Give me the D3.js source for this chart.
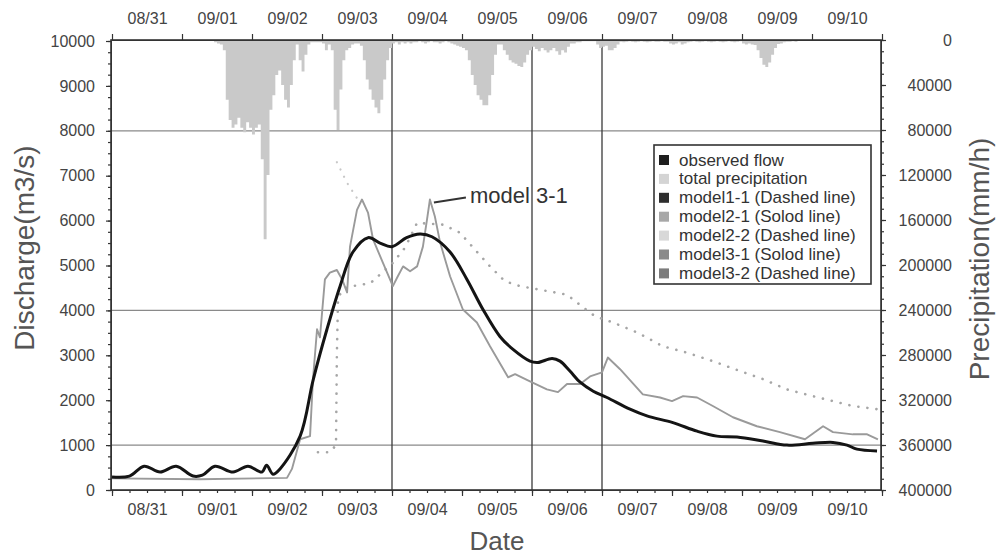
<!DOCTYPE html>
<html lang="en">
<head>
  <meta charset="UTF-8">
  <title>Discharge and precipitation</title>
  <script src="https://d3js.org/d3.v7.min.js"></script>
  <style>
    body { margin: 0; background: #fff; font-family: "Liberation Sans", Arial, Helvetica, sans-serif; }
    .tick text { fill: #444; font-size: 16px; font-family: "Liberation Sans", Arial, sans-serif; }
    .axis path, .axis line { stroke: #333; }
  </style>
</head>
<body>
<div id="chart"></div>
<script>
  // day labels (08/31 00:00 = hour 0)
  const days = ["08/31", "09/01", "09/02", "09/03", "09/04", "09/05", "09/06", "09/07", "09/08", "09/09", "09/10"];
  const dischargeTicks = [0, 1000, 2000, 3000, 4000, 5000, 6000, 7000, 8000, 9000, 10000];
  const precipTicks = [0, 40000, 80000, 120000, 160000, 200000, 240000, 280000, 320000, 360000, 400000];
  const gridValues = [1000, 4000, 8000];
  const markedDays = [4, 6, 7];

  // observed flow
  const obsHours = [0, 6, 11, 16.5, 22, 27.8, 31, 35.3, 41.5, 46.6, 51.4, 53, 55.2, 57.6, 64.5, 69, 73.7, 78.2, 82.6, 87.8, 91.9, 96, 101, 105.6, 109.7, 115.9, 121.7, 127.2, 133, 137.5, 143.3, 146, 150.9, 153.6, 157, 160.5, 165, 169.7, 177.6, 183.4, 192.3, 200.6, 207.4, 214.3, 223.2, 231.4, 240.3, 247.2, 252, 255.4, 262.3];
  const obsFlow = [290, 310, 530, 400, 530, 310, 330, 530, 400, 530, 400, 550, 350, 470, 1200, 2460, 3580, 4540, 5300, 5620, 5500, 5420, 5620, 5700, 5640, 5300, 4690, 4020, 3420, 3130, 2870, 2840, 2930, 2870, 2650, 2400, 2200, 2060, 1800, 1650, 1500, 1310, 1200, 1180, 1090, 1000, 1040, 1060, 1000, 910, 870];

  // model3-1 (solid)
  const m31Hours = [0, 30, 60, 61.7, 64.5, 67.9, 68.9, 70.3, 71.3, 73, 74.7, 77.1, 78.9, 80.6, 81.6, 84, 85.7, 87.8, 89.5, 92.9, 96.3, 98, 99.8, 102.2, 104.6, 106.6, 108, 109, 110.7, 112.5, 115.9, 120.3, 125.1, 129.6, 135.8, 138.2, 143.3, 149.1, 152.9, 156, 160.5, 163.9, 168, 170, 174.2, 182, 187.9, 192, 195.8, 200.6, 206, 212.9, 221.1, 229, 237.6, 243.8, 247.2, 254, 258.9, 262.6];
  const m31Flow = [260, 240, 270, 470, 1130, 1200, 2460, 3580, 3400, 4690, 4840, 4900, 4690, 4400, 5420, 6240, 6470, 6170, 5580, 5060, 4540, 4760, 4980, 4870, 4980, 5420, 6020, 6470, 6090, 5510, 4760, 4020, 3730, 3200, 2510, 2580, 2420, 2240, 2180, 2360, 2360, 2530, 2620, 2950, 2690, 2130, 2060, 1980, 2090, 2060, 1870, 1620, 1420, 1290, 1130, 1420, 1290, 1240, 1240, 1130];

  // model3-2 (dashed)
  const m32Hours = [70.6, 74.7, 76.8, 77.1, 77.5, 79.9, 84, 88.5, 96.3, 100.5, 104.6, 113.5, 119.3, 124.5, 129.6, 134.7, 139.9, 150.2, 156, 161.5, 165.6, 171.8, 180, 188.9, 197.1, 206, 215.3, 223.2, 231.4, 240.3, 247.2, 254, 262.3];
  const m32Flow = [840, 840, 1000, 3000, 4300, 4500, 4560, 4600, 5060, 5400, 5950, 5910, 5730, 5350, 4980, 4650, 4540, 4420, 4350, 4070, 3870, 3730, 3510, 3200, 3060, 2870, 2650, 2470, 2240, 2090, 1980, 1870, 1800];

  // model2-2 (dashed, faint)
  const m22Hours = [77.1, 80.6, 84];
  const m22Flow = [7300, 6840, 6500];

  // hourly total precipitation from hour 35
  const rainStart = 35;
  const rainValues = [
    2000, 3000, 4000, 9000, 53000, 71000, 78000, 75000, 69000, 78000,
    82000, 73000, 78000, 84000, 78000, 75000, 106000, 177000, 120000, 62000,
    49000, 31000, 27000, 40000, 53000, 60000, 40000, 18000, 4000, 18000,
    28000, 13000, 4000, 2000, 2000, 2000, 2000, 3000, 9000, 4000,
    9000, 62000, 80000, 44000, 18000, 9000, 7000, 4000, 3000, 3000,
    5000, 18000, 35000, 44000, 53000, 60000, 65000, 53000, 35000, 18000,
    7000, 3000, 2000, 4000, 2000, 3000, 2000, 3000, 2000, 2000,
    1000, 2000, 3000, 2000, 1000, 2000, 2000, 3000, 2000, 1000,
    2000, 3000, 4000, 5000, 6000, 7000, 9000, 18000, 31000, 40000,
    49000, 53000, 58000, 58000, 49000, 31000, 13000, 4000, 4000, 9000,
    13000, 18000, 20000, 21000, 23000, 24000, 20000, 13000, 9000, 6000,
    8000, 10000, 7000, 9000, 11000, 9000, 7000, 10000, 13000, 9000,
    11000, 6000, 3000, 3000, 2000, 2000, 1000, 1000, 1000, 1000,
    1000, 4000, 7000, 6000, 5000, 9000, 9000, 7000, 4000, 1500,
    2000, 1500, 1000, 1500, 2000, 1500, 1000, 1500, 2000, 1500,
    1000, 1500, 1500, 1000, 1500, 1500, 3000, 4000, 3000, 2000,
    4000, 3000, 2000, 1500, 1000, 1500, 2000, 1500, 1000, 1500,
    2000, 1500, 1000, 1500, 2000, 1500, 1000, 1500, 2000, 1500,
    1000, 3000, 4000, 3000, 4000, 4500, 9000, 16000, 22000, 24000,
    20000, 13000, 7000, 3500, 3000, 2000, 1500, 1500, 1000, 1500
  ];

  const legendLabels = ["observed flow", "total precipitation", "model1-1 (Dashed line)", "model2-1 (Solod line)", "model2-2 (Dashed line)", "model3-1 (Solod line)", "model3-2 (Dashed line)"];
  const legendColors = ["#1e1e1e", "#d4d4d4", "#2e2e2e", "#a8a8a8", "#d8d8d8", "#8a8a8a", "#7c7c7c"];

  const width = 998, height = 557;
  const plotLeft = 111, plotRight = 881, plotTop = 40, plotBottom = 490;

  const svg = d3.select("#chart").append("svg")
    .attr("width", width)
    .attr("height", height);

  const x = d3.scaleLinear().domain([0, 264]).range([plotLeft + 1, plotRight + 1]);
  const yL = d3.scaleLinear().domain([0, 10000]).range([plotBottom, plotTop + 1]);
  const yR = d3.scaleLinear().domain([0, 400000]).range([plotTop, plotBottom]);

  const dayBounds = d3.range(0, days.length + 1).map(d => d * 24);
  const dayMids = days.map((d, i) => i * 24 + 12);

  // grid
  svg.append("g").selectAll("line")
    .data(gridValues)
    .join("line")
    .attr("x1", plotLeft).attr("x2", plotRight)
    .attr("y1", d => yL(d)).attr("y2", d => yL(d))
    .attr("stroke", "#8a8a8a").attr("stroke-width", 1.2);

  svg.append("g").selectAll("line")
    .data(markedDays)
    .join("line")
    .attr("x1", d => x(d * 24)).attr("x2", d => x(d * 24))
    .attr("y1", plotTop).attr("y2", plotBottom)
    .attr("stroke", "#3a3a3a").attr("stroke-width", 1.3);

  // precipitation hanging from the top, drawn as a stepped area
  const rainPoints = rainValues.map((v, i) => [rainStart + i, v]);
  rainPoints.push([rainStart + rainValues.length, rainValues[rainValues.length - 1]]);
  svg.append("path")
    .attr("d", d3.area()
      .x(d => x(d[0]))
      .y0(plotTop)
      .y1(d => yR(d[1]))
      .curve(d3.curveStepAfter)(rainPoints))
    .attr("fill", "#c9c9c9");

  // lines
  const lineFor = (hours, vals, curve) => d3.line()
    .x((d, i) => x(hours[i]))
    .y(d => yL(d))
    .curve(curve)(vals);

  svg.append("path")
    .attr("d", lineFor(m22Hours, m22Flow, d3.curveLinear))
    .attr("fill", "none").attr("stroke", "#c8c8c8").attr("stroke-width", 2.2)
    .attr("stroke-linecap", "round").attr("stroke-dasharray", "0.1 8");

  svg.append("path")
    .attr("d", lineFor(m32Hours, m32Flow, d3.curveLinear))
    .attr("fill", "none").attr("stroke", "#a6a6a6").attr("stroke-width", 2.6)
    .attr("stroke-linecap", "round").attr("stroke-dasharray", "0.1 9");

  svg.append("path")
    .attr("d", lineFor(m31Hours, m31Flow, d3.curveLinear))
    .attr("fill", "none").attr("stroke", "#9a9a9a").attr("stroke-width", 1.9)
    .attr("stroke-linejoin", "round");

  svg.append("path")
    .attr("d", lineFor(obsHours, obsFlow, d3.curveCatmullRom))
    .attr("fill", "none").attr("stroke", "#141414").attr("stroke-width", 3)
    .attr("stroke-linejoin", "round");

  // frame
  svg.append("rect")
    .attr("x", plotLeft).attr("y", plotTop)
    .attr("width", plotRight - plotLeft).attr("height", plotBottom - plotTop)
    .attr("fill", "none").attr("stroke", "#333").attr("stroke-width", 1.6);

  // axes
  svg.append("g").attr("class", "axis")
    .attr("transform", `translate(0,${plotBottom})`)
    .call(d3.axisBottom(x).tickValues(dayBounds).tickSize(6).tickFormat(""));
  svg.append("g").attr("class", "axis")
    .attr("transform", `translate(0,${plotBottom})`)
    .call(d3.axisBottom(x).tickValues(d3.range(0, 265, 6)).tickSize(3).tickFormat(""));
  svg.append("g").attr("class", "axis")
    .attr("transform", `translate(0,${plotBottom})`)
    .call(d3.axisBottom(x).tickValues(dayMids).tickSize(0).tickPadding(14).tickFormat((d, i) => days[i]));

  svg.append("g").attr("class", "axis")
    .attr("transform", `translate(0,${plotTop})`)
    .call(d3.axisTop(x).tickValues(dayBounds).tickSize(6).tickFormat(""));
  svg.append("g").attr("class", "axis")
    .attr("transform", `translate(0,${plotTop})`)
    .call(d3.axisTop(x).tickValues(dayMids).tickSize(0).tickPadding(16).tickFormat((d, i) => days[i]));

  svg.append("g").attr("class", "axis")
    .attr("transform", `translate(${plotLeft},0)`)
    .call(d3.axisLeft(yL).tickValues(d3.range(0, 10001, 250)).tickSize(3).tickFormat(""));
  svg.append("g").attr("class", "axis")
    .attr("transform", `translate(${plotLeft},0)`)
    .call(d3.axisLeft(yL).tickValues(dischargeTicks).tickSize(5).tickPadding(11).tickFormat(d3.format("d")));

  svg.append("g").attr("class", "axis")
    .attr("transform", `translate(${plotRight},0)`)
    .call(d3.axisRight(yR).tickValues(d3.range(0, 400001, 10000)).tickSize(3).tickFormat(""));
  svg.append("g").attr("class", "axis")
    .attr("transform", `translate(${plotRight},0)`)
    .call(d3.axisRight(yR).tickValues(precipTicks).tickSize(5).tickFormat(d3.format("d")))
    .selectAll("text").attr("text-anchor", "end").attr("x", 71);

  svg.selectAll(".axis .domain").attr("stroke", "none");
  svg.selectAll(".axis line").attr("stroke-width", 1.2);

  // axis titles
  svg.append("text")
    .attr("transform", "translate(24,248) rotate(-90)")
    .attr("text-anchor", "middle").attr("dominant-baseline", "central")
    .attr("font-size", 28).attr("fill", "#555")
    .text("Discharge(m3/s)");

  svg.append("text")
    .attr("transform", "translate(979,259) rotate(-90)")
    .attr("text-anchor", "middle").attr("dominant-baseline", "central")
    .attr("font-size", 28).attr("fill", "#555")
    .text("Precipitation(mm/h)");

  svg.append("text")
    .attr("x", 497).attr("y", 550)
    .attr("text-anchor", "middle")
    .attr("font-size", 26).attr("fill", "#555")
    .text("Date");

  // annotation at the second model3-1 peak
  const peakX = x(109), peakY = yL(6470);
  svg.append("line")
    .attr("x1", peakX + 4).attr("y1", peakY + 3)
    .attr("x2", peakX + 36).attr("y2", peakY - 2)
    .attr("stroke", "#333").attr("stroke-width", 2);
  svg.append("text")
    .attr("x", peakX + 40).attr("y", peakY + 4)
    .attr("font-size", 22).attr("fill", "#333")
    .text("model 3-1");

  // legend
  const legend = svg.append("g").attr("transform", "translate(654,145)");
  legend.append("rect")
    .attr("width", 217).attr("height", 139)
    .attr("fill", "#fff").attr("stroke", "#333").attr("stroke-width", 1.6);

  legend.selectAll("g")
    .data(legendLabels)
    .join("g")
    .attr("transform", (_, i) => `translate(0,${15 + i * 18.9})`)
    .each(function(d, i) {
      const row = d3.select(this);
      row.append("rect")
        .attr("x", 5).attr("y", -5)
        .attr("width", 10).attr("height", 10)
        .attr("fill", legendColors[i]);
      row.append("text")
        .attr("x", 25).attr("y", 0)
        .attr("dominant-baseline", "central")
        .attr("font-size", 17).attr("fill", "#333")
        .text(d);
    });
</script>
</body>
</html>
